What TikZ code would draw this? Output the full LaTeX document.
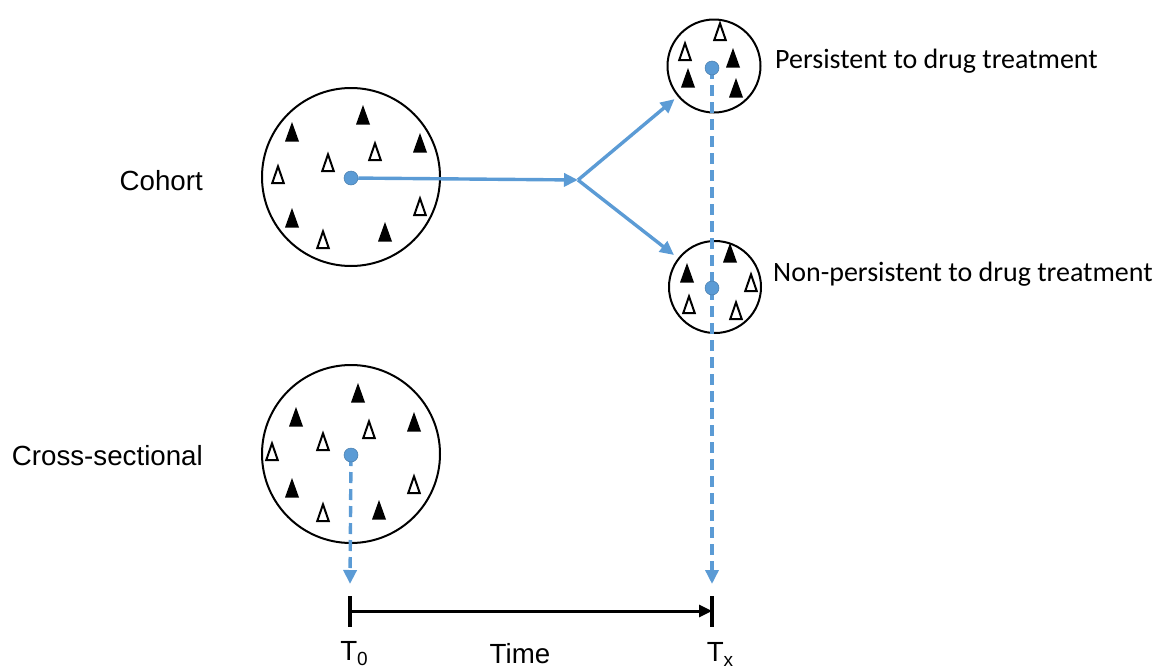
\documentclass[tikz,border=0pt]{standalone}
\usepackage{fontspec}
\setmainfont{Liberation Sans}
\newfontfamily\calfont{Carlito}
\usetikzlibrary{arrows.meta}
\definecolor{bl}{RGB}{91,155,213}
\newcommand\subtxt[1]{\raisebox{-5pt}{\fontsize{19}{21}\selectfont #1}}
\tikzset{
  group/.style={circle,draw=black,line width=2pt,inner sep=0pt},
  dot/.style={circle,fill=bl,draw=bl!80!black,line width=0.5pt,minimum size=14pt,inner sep=0pt},
  flow/.style={draw=bl,line width=3.4pt,-{Triangle[length=14pt,width=13pt]}},
  dflow/.style={flow,dash pattern=on 11pt off 6pt},
  lab/.style={font=\fontsize{27.7}{32}\selectfont,inner sep=0pt},
  clab/.style={font=\calfont\fontsize{28}{32}\selectfont,inner sep=0pt,anchor=west},
  ftri/.pic={\fill[black] (-7pt,-9.5pt)--(7pt,-9.5pt)--(0pt,10pt)--cycle;},
  otri/.pic={\draw[black,line width=2pt,fill=white] (-5.8pt,-8.2pt)--(5.8pt,-8.2pt)--(0pt,8.6pt)--cycle;}
}
\begin{document}
\begin{tikzpicture}[x=1pt,y=-1pt]
\useasboundingbox (0,0) rectangle (1160,670);
% circles
\node[group,minimum size=178pt] (coh) at (351,177) {};
\node[group,minimum size=93pt] (pers) at (714,66) {};
\node[group,minimum size=92pt] (npers) at (715,287) {};
\node[group,minimum size=178pt] (cross) at (351,454) {};
% triangles cohort
\foreach \p in {(292,132),(363,115),(420,143),(292,218),(385,232)} \pic at \p {ftri};
\foreach \p in {(375,152),(328,163),(278,175),(323,240),(420,207)} \pic at \p {otri};
% triangles persistent
\foreach \p in {(733,58),(688,78),(736,88)} \pic at \p {ftri};
\foreach \p in {(720,32),(685,52)} \pic at \p {otri};
% triangles non-persistent
\foreach \p in {(730,253),(687,273)} \pic at \p {ftri};
\foreach \p in {(751,283),(689,305),(736,311)} \pic at \p {otri};
% triangles cross-sectional
\foreach \p in {(358,393),(296,417),(414,422),(292,488),(379,510)} \pic at \p {ftri};
\foreach \p in {(369,430),(323,442),(272,452),(414,485),(323,513)} \pic at \p {otri};
% timeline points
\coordinate (branch) at (578,180);
\coordinate (t0) at (350,611);
\coordinate (tx) at (712,611);
\coordinate (a0) at (350,584);
\coordinate (ax) at (712,584);
% connectors
\draw[dflow] (712,68) -- (ax);
\draw[dflow] (351,455) -- (a0);
\node[dot] (dc) at (351,178) {};
\node[dot] (dp) at (712,68) {};
\node[dot] (dn) at (712,288) {};
\node[dot] (dx) at (351,455) {};
\draw[flow] (dc) -- (branch);
\draw[flow,shorten >=4pt] (branch) -- (pers);
\draw[flow,shorten >=5pt] (branch) -- (npers);
% time axis
\draw[line width=3.4pt] (350,596) -- (350,627);
\draw[line width=3.4pt] (712,596) -- (712,627);
\draw[line width=3pt,-{Triangle[length=13pt,width=12pt]}] (t0) -- (tx);
% labels
\node[lab,anchor=east] (lc) at (203,181) {Cohort};
\node[lab,anchor=east] (lx) at (203,456) {Cross-sectional};
\node[clab] (lp) at (775,61) {Persistent to drug treatment};
\node[clab] (ln) at (773,274) {Non-persistent to drug treatment};
\node[lab] (l0) at (354,654) {T\subtxt{0}};
\node[lab] (lt) at (520,654) {Time};
\node[lab] (lxx) at (720,654) {T\subtxt{x}};
\end{tikzpicture}
\end{document}
